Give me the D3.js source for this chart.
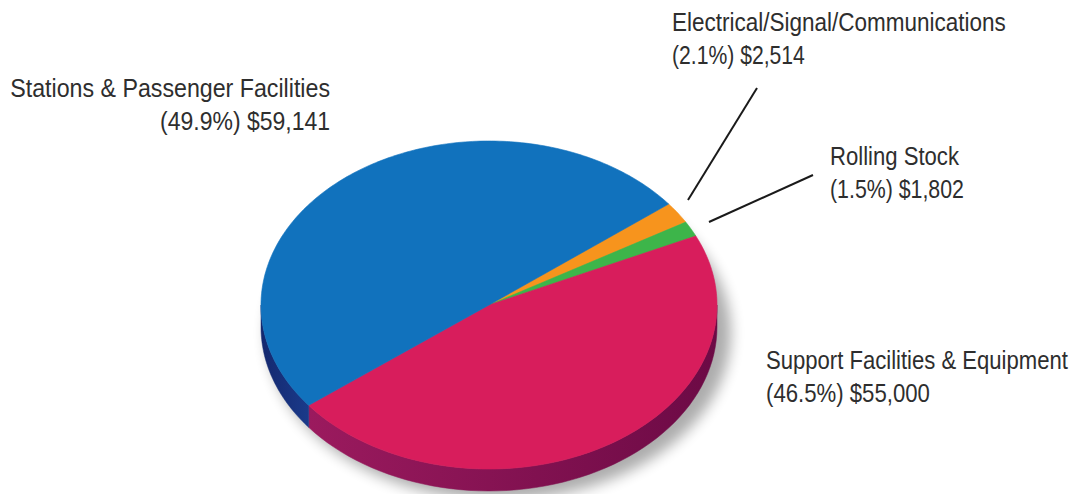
<!DOCTYPE html>
<html><head><meta charset="utf-8">
<script src="https://cdn.jsdelivr.net/npm/d3@7"></script>
<style>body{margin:0;background:#fff;} text{font-family:"Liberation Sans","Arial",sans-serif;fill:#2e2e2e;}</style>
</head><body>
<svg id="c" width="1078" height="494"></svg>
<script>
const categories = ["Electrical/Signal/Communications","Rolling Stock","Support Facilities & Equipment","Stations & Passenger Facilities"];
const values = [2514, 1802, 55000, 59141];
const percents = ["2.1%","1.5%","46.5%","49.9%"];
const amounts = ["$2,514","$1,802","$55,000","$59,141"];
const topColors = ["#f7941d","#3db54a","#d81d5c","#1172bd"];
const sideColors = [["#c66f10","#a85a08"],["#2a8a37","#1f6e2a"],["#9b1a5e","#6c0a45"],["#14286e","#1a3a8a"]];

const svg = d3.select("#c");
const cx=489, cy=305, rx=228, ry=164, depth=22;
const start = 52*Math.PI/180;
const pie = d3.pie().sort(null).value(d=>d).startAngle(start).endAngle(start+2*Math.PI);
const arcs = pie(values);

const px = a => cx + rx*Math.sin(a);
const py = a => cy - ry*Math.cos(a);

const defs = svg.append("defs");
defs.append("filter").attr("id","blur").attr("x","-20%").attr("y","-20%").attr("width","140%").attr("height","140%")
  .append("feGaussianBlur").attr("stdDeviation",7);
sideColors.forEach((c,i)=>{
  const g = defs.append("linearGradient").attr("id","sg"+i).attr("x1","0").attr("x2","1").attr("y1","0").attr("y2","0");
  g.append("stop").attr("offset","0%").attr("stop-color",c[0]);
  g.append("stop").attr("offset","100%").attr("stop-color",c[1]);
});

svg.append("ellipse").attr("cx",cx+10).attr("cy",cy+depth+6).attr("rx",rx+4).attr("ry",ry+3)
  .attr("fill","#000").attr("opacity",0.32).attr("filter","url(#blur)");

function sample(a0,a1,n){const r=[];for(let i=0;i<=n;i++){r.push(a0+(a1-a0)*i/n);}return r;}

arcs.forEach((d,i)=>{
  for(let k=-1;k<=1;k++){
    const lo = Math.PI/2 + 2*Math.PI*k, hi = 3*Math.PI/2 + 2*Math.PI*k;
    const a0 = Math.max(d.startAngle, lo), a1 = Math.min(d.endAngle, hi);
    if(a1<=a0) continue;
    const pts = sample(a0,a1,60);
    let p = "M"+pts.map(a=>px(a)+","+py(a)).join("L");
    p += "L"+pts.slice().reverse().map(a=>px(a)+","+(py(a)+depth)).join("L")+"Z";
    svg.append("path").attr("d",p).attr("fill","url(#sg"+i+")").attr("stroke","url(#sg"+i+")").attr("stroke-width",0.5);
  }
});

arcs.forEach((d,i)=>{
  const pts = sample(d.startAngle,d.endAngle,Math.max(8,Math.ceil((d.endAngle-d.startAngle)*60)));
  const p = "M"+cx+","+cy+"L"+pts.map(a=>px(a)+","+py(a)).join("L")+"Z";
  svg.append("path").attr("d",p).attr("fill",topColors[i]).attr("stroke",topColors[i]).attr("stroke-width",0.6);
});

const leaders = [[688,200,757,88],[709,222,813,175]];
leaders.forEach(l=>svg.append("line").attr("x1",l[0]).attr("y1",l[1]).attr("x2",l[2]).attr("y2",l[3]).attr("stroke","#1a1a1a").attr("stroke-width",2));

const labelPos = [
  {x:672,y:31,anchor:"start",w1:334,w2:133},
  {x:830,y:165,anchor:"start",w1:129,w2:134},
  {x:766,y:369,anchor:"start",w1:302,w2:164},
  {x:330,y:97,anchor:"end",w1:320,w2:170}
];
function addText(str,x,y,anchor,w){
  const t = svg.append("text").attr("x",0).attr("y",0).attr("text-anchor",anchor).attr("font-size",26).text(str);
  const nat = t.node().getComputedTextLength();
  t.attr("transform","translate("+x+","+y+") scale("+(w/nat)+",1)");
}
categories.forEach((c,i)=>{
  const L = labelPos[i];
  addText(c,L.x,L.y,L.anchor,L.w1);
  addText("("+percents[i]+") "+amounts[i],L.x,L.y+33,L.anchor,L.w2);
});
</script>
</body></html>
